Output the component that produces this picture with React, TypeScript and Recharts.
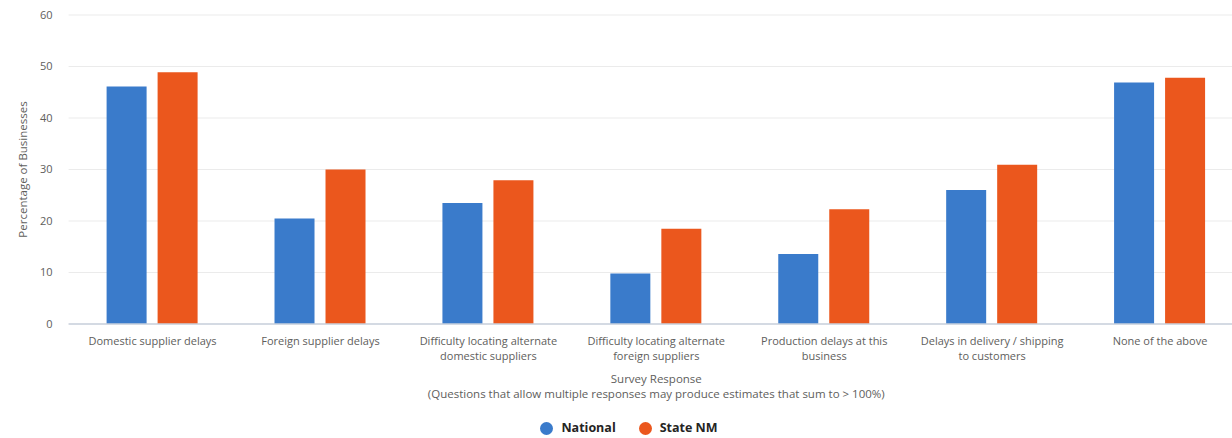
import { Bar, BarChart, CartesianGrid, Legend, XAxis, YAxis } from "recharts"

const categories = [
  "Domestic supplier delays",
  "Foreign supplier delays",
  "Difficulty locating alternate\ndomestic suppliers",
  "Difficulty locating alternate\nforeign suppliers",
  "Production delays at this\nbusiness",
  "Delays in delivery / shipping\nto customers",
  "None of the above",
]
const national = [46.1, 20.5, 23.5, 9.8, 13.6, 26.0, 46.9]
const stateNM = [48.9, 30.0, 27.9, 18.5, 22.3, 30.9, 47.8]
const yTicks = [0, 10, 20, 30, 40, 50, 60]

const seriesNames = ["National", "State NM"]
const seriesColors = ["#3a7bcb", "#eb571d"]

const font = "'Segoe UI', 'Open Sans', sans-serif"

const data = categories.map((name, i) => ({
  name,
  national: national[i],
  state: stateNM[i],
}))

function CategoryTick(props: any) {
  const { x, y, payload } = props
  const lines = String(payload.value).split("\n")
  return (
    <text x={x} y={y} textAnchor="middle" fill="#605e5c" fontSize={11} fontFamily={font}>
      {lines.map((line, i) => (
        <tspan key={i} x={x} y={y + 13 + i * 14.5}>
          {line}
        </tspan>
      ))}
    </text>
  )
}

function AxisTitle(props: any) {
  const { viewBox } = props
  const cx = viewBox.x + viewBox.width / 2
  return (
    <text textAnchor="middle" fill="#605e5c" fontSize={11.5} fontFamily={font}>
      <tspan x={cx} y={383}>Survey Response</tspan>
      <tspan x={cx} y={398}>(Questions that allow multiple responses may produce estimates that sum to &gt; 100%)</tspan>
    </text>
  )
}

function LegendBox() {
  return (
    <div style={{ display: "flex", justifyContent: "center", alignItems: "center", gap: 23, paddingLeft: 14 }}>
      {seriesNames.map((n, i) => (
        <div key={n} style={{ display: "flex", alignItems: "center" }}>
          <span
            style={{
              width: 13,
              height: 13,
              borderRadius: "50%",
              background: seriesColors[i],
              display: "inline-block",
              marginRight: 8,
            }}
          />
          <span style={{ fontFamily: font, fontSize: 12.5, fontWeight: 700, color: "#252423" }}>{n}</span>
        </div>
      ))}
    </div>
  )
}

export default function App() {
  return (
    <div style={{ position: "fixed", left: 0, top: 0, width: 1232, height: 438, overflow: "hidden", background: "#fff" }}>
      <BarChart
        width={1244}
        height={438}
        data={data}
        margin={{ top: 15, right: 0, left: 0, bottom: 0 }}
        barSize={40}
        barGap={11}
      >
        <CartesianGrid vertical={false} stroke="#ebebeb" />
        <XAxis
          dataKey="name"
          height={94}
          interval={0}
          tickLine={false}
          axisLine={{ stroke: "#c9d0dc", strokeWidth: 1.5 }}
          tick={<CategoryTick />}
          label={<AxisTitle />}
        />
        <YAxis
          width={68.6}
          domain={[0, 60]}
          ticks={yTicks}
          tickLine={false}
          axisLine={false}
          tickMargin={10}
          tick={{ fill: "#605e5c", fontSize: 11, fontFamily: font }}
          label={{
            value: "Percentage of Businesses",
            angle: -90,
            position: "insideLeft",
            dx: 18,
            dy: 0,
            style: { textAnchor: "middle", fill: "#605e5c", fontSize: 11.5, fontFamily: font },
          }}
        />
        <Legend
          verticalAlign="bottom"
          content={<LegendBox />}
          wrapperStyle={{ height: 20, bottom: 0, lineHeight: "20px" }}
        />
        <Bar dataKey="national" name={seriesNames[0]} fill={seriesColors[0]} isAnimationActive={false} />
        <Bar dataKey="state" name={seriesNames[1]} fill={seriesColors[1]} isAnimationActive={false} />
      </BarChart>
    </div>
  )
}
